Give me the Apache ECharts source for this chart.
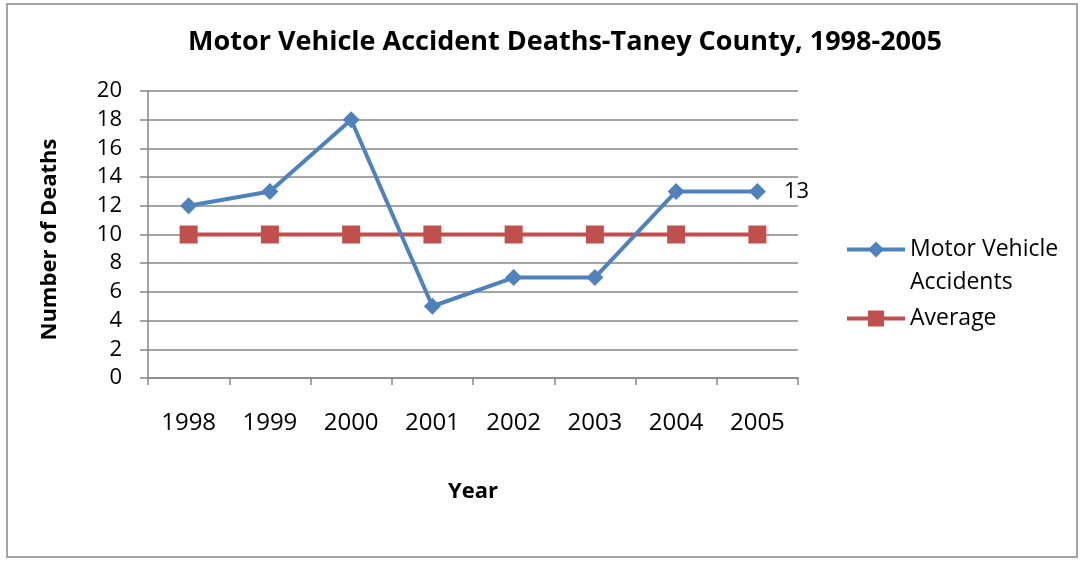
<!DOCTYPE html>
<html>
<head>
<meta charset="utf-8">
<script src="https://cdn.jsdelivr.net/npm/echarts@6/dist/echarts.min.js"></script>
<style>
  html, body { margin: 0; padding: 0; background: #fff; }
  #main { width: 1080px; height: 561px; }
</style>
</head>
<body>
<div id="main"></div>
<script>
var years = ['1998', '1999', '2000', '2001', '2002', '2003', '2004', '2005'];
var motorVehicle = [12, 13, 18, 5, 7, 7, 13, 13];
var average = [10, 10, 10, 10, 10, 10, 10, 10];
var yTicks = [0, 2, 4, 6, 8, 10, 12, 14, 16, 18, 20];

var font = 'Open Sans';
var myChart = echarts.init(document.getElementById('main'));

myChart.setOption({
  animation: false,
  backgroundColor: '#fff',
  graphic: [{
    type: 'rect',
    shape: { x: 7, y: 4, width: 1070, height: 553 },
    style: { fill: 'none', stroke: '#868686', lineWidth: 1.5 }
  }],
  title: {
    text: 'Motor Vehicle Accident Deaths-Taney County, 1998-2005',
    left: 560,
    textAlign: 'center',
    top: 24,
    textStyle: { fontFamily: font, fontWeight: 'bold', fontSize: 27, color: '#000' }
  },
  legend: {
    orient: 'vertical',
    left: 845,
    top: 200,
    padding: 0,
    itemWidth: 58,
    itemHeight: 20,
    itemGap: 3,
    itemTextGap: 0,
    lineStyle: { width: 4 },
    data: ['Motor Vehicle Accidents', 'Average'],
    formatter: function (name) {
      // blank first line keeps the icon level with "Motor Vehicle"
      return name === 'Average' ? name : '\n' + name.replace('Vehicle ', 'Vehicle\n');
    },
    textStyle: { fontFamily: font, fontSize: 23, color: '#000', lineHeight: 33 }
  },
  grid: { left: 148, right: 282, top: 91, bottom: 183 },
  xAxis: {
    type: 'category',
    data: years,
    boundaryGap: true,
    name: 'Year',
    nameLocation: 'middle',
    nameGap: 103,
    nameTextStyle: { fontFamily: font, fontWeight: 'bold', fontSize: 22, color: '#000' },
    axisLine: { lineStyle: { color: '#868686', width: 1.5 } },
    axisTick: { show: true, length: 7, alignWithLabel: false, lineStyle: { color: '#868686', width: 1.5 } },
    axisLabel: { fontFamily: font, fontSize: 24, color: '#000', margin: 33 },
    splitLine: { show: false }
  },
  yAxis: {
    type: 'value',
    min: yTicks[0],
    max: yTicks[yTicks.length - 1],
    interval: 2,
    name: 'Number of Deaths',
    nameLocation: 'middle',
    nameGap: 87,
    nameRotate: 90,
    nameTextStyle: { fontFamily: font, fontWeight: 'bold', fontSize: 22, color: '#000', padding: [0, 10, 0, 0] },
    axisLine: { show: true, lineStyle: { color: '#868686', width: 1.5 } },
    axisTick: { show: true, length: 8, lineStyle: { color: '#868686', width: 1.5 } },
    axisLabel: { fontFamily: font, fontSize: 22, color: '#000', margin: 26 },
    splitLine: { show: true, lineStyle: { color: '#868686', width: 1.5 } }
  },
  series: [
    {
      name: 'Motor Vehicle Accidents',
      type: 'line',
      data: motorVehicle,
      symbol: 'diamond',
      symbolSize: 17,
      lineStyle: { color: '#4F81BD', width: 4 },
      itemStyle: { color: '#4F81BD' },
      label: {
        show: true,
        position: 'right',
        distance: 18,
        fontFamily: font,
        fontSize: 22,
        color: '#000',
        formatter: function (p) {
          return p.dataIndex === motorVehicle.length - 1 ? p.value : '';
        }
      },
      z: 3
    },
    {
      name: 'Average',
      type: 'line',
      data: average,
      symbol: 'rect',
      symbolSize: 18,
      lineStyle: { color: '#C0504D', width: 4 },
      itemStyle: { color: '#C0504D' },
      z: 2
    }
  ]
});
</script>
</body>
</html>
